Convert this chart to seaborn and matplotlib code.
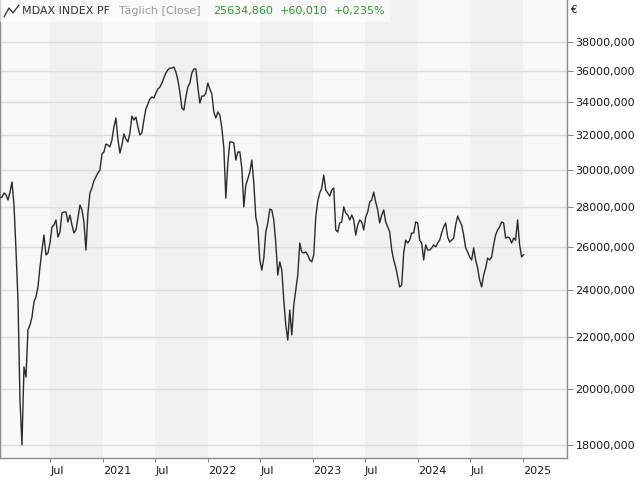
import matplotlib
matplotlib.use("Agg")
import matplotlib.pyplot as plt
import seaborn as sns
import pandas as pd
from matplotlib.ticker import FixedLocator, FuncFormatter, NullLocator
from matplotlib.patches import Rectangle
from matplotlib.lines import Line2D

# ---- data (~weekly samples) ----
close_values = [
    28470, 28520, 28730, 28630, 28360, 28780, 29320, 28100, 25850, 23560,
    19580, 18020, 20820, 20430, 22300, 22500, 22830, 23480, 23700, 24140,
    25050, 25850, 26580, 25620, 25710, 26190, 26980, 27080, 27330, 26480,
    26730, 27690, 27740, 27740, 27230, 27580, 27080, 26680, 26830, 27430,
    28100, 27840, 27230, 25850, 27690, 28730, 29000, 29380, 29600, 29820,
    29980, 30880, 31000, 31460, 31400, 31290, 31690, 32470, 33010, 31750,
    30940, 31400, 32050, 31750, 31580, 32110, 33130, 32890, 33070, 32470,
    31990, 32110, 32890, 33570, 33880, 34190, 34320, 34260, 34570, 34830,
    34960, 35220, 35550, 35880, 36080, 36210, 36210, 36280, 35950, 35420,
    34640, 33630, 33500, 34320, 34960, 35220, 35880, 36150, 36150, 34960,
    33940, 34380, 34380, 34570, 35220, 34830, 34510, 33380, 33010, 33380,
    33190, 32410, 31230, 28460, 30370, 31580, 31580, 31520, 30540, 31000,
    31000, 30090, 28000, 29160, 29490, 29870, 30540, 29270, 27480, 26980,
    25380, 24910, 25470, 26730, 27180, 27890, 27840, 27330, 26190, 24680,
    25290, 24910, 23560, 22500, 21880, 23130, 22090, 23350, 24000, 24680,
    26190, 25760, 25710, 25760, 25620, 25380, 25290, 25620, 27480, 28310,
    28730, 29000, 29700, 28890, 28730, 28570, 28890, 29000, 26830, 26730,
    27180, 27230, 28000, 27690, 27580, 27330, 27580, 27330, 26580, 27080,
    27330, 27230, 26830, 27480, 27740, 28250, 28360, 28780, 28250, 27840,
    27180, 27580, 27840, 27230, 26980, 26730, 25850, 25380, 25050, 24590,
    24140, 24230, 25710, 26330, 26190, 26330, 26680, 26680, 27230, 27180,
    26330, 26190, 25380, 26100, 25850, 25850, 25950, 26100, 26000, 26190,
    26330, 26680, 26980, 27180, 26480, 26240, 26330, 26430, 27080, 27530,
    27280, 27080, 26580, 25950, 25760, 25520, 25380, 25950, 25380, 25000,
    24460, 24140, 24680, 25000, 25470, 25380, 25520, 26100, 26580, 26830,
    26980, 27230, 27180, 26430, 26480, 26430, 26190, 26430, 26330, 27330,
    26100, 25520, 25635,
]
first_date = "2020-01-08"
last_date = "2025-01-03"

y_ticks = [18000, 20000, 22000, 24000, 26000, 28000, 30000, 32000, 34000, 36000, 38000]
x_tick_dates = ["2020-07-01", "2021-01-01", "2021-07-01", "2022-01-01", "2022-07-01",
                "2023-01-01", "2023-07-01", "2024-01-01", "2024-07-01", "2025-01-01"]
x_tick_labels = ["Jul", "2021", "Jul", "2022", "Jul", "2023", "Jul", "2024", "Jul", "2025"]

title_name = "MDAX INDEX PF"
title_mode = "Täglich [Close]"
title_last = "25634,860"
title_change = "+60,010"
title_pct = "+0,235%"

# ---- styling ----
sns.set_theme(style="white")
plt.rcParams["font.family"] = ["DejaVu Sans"]

dates = pd.date_range(first_date, last_date, periods=len(close_values))
df = pd.DataFrame({"date": dates, "close": close_values})

W, H = 640, 480
fig = plt.figure(figsize=(6.4, 4.8), dpi=100)
fig.patch.set_facecolor("white")
ax = fig.add_axes([0, 22 / H, 567 / W, 458 / H])
ax.set_facecolor("#f8f8f8")

# alternating half-year bands
for yr in range(2020, 2025):
    ax.axvspan(pd.Timestamp(f"{yr}-07-01"), pd.Timestamp(f"{yr + 1}-01-01"),
               color="#f0f0f0", lw=0, zorder=0)

sns.lineplot(data=df, x="date", y="close", ax=ax, color="#2b2b2b",
             linewidth=1.0, zorder=3)

ax.set_yscale("log")
ax.set_ylim(17588, 41075)
ax.set_xlim(pd.Timestamp("2020-01-08"), pd.Timestamp("2025-06-03"))

ax.yaxis.set_major_locator(FixedLocator(y_ticks))
ax.yaxis.set_minor_locator(NullLocator())
ax.yaxis.set_major_formatter(FuncFormatter(lambda v, p: f"{v:.0f},000"))
ax.yaxis.tick_right()
ax.set_xticks(pd.to_datetime(x_tick_dates))
ax.set_xticklabels(x_tick_labels, ha="left")
ax.xaxis.set_minor_locator(NullLocator())

ax.set_axisbelow(True)
ax.grid(axis="y", color="#dcdcdc", linewidth=1.0)
ax.grid(axis="x", visible=False)

ax.tick_params(axis="y", which="major", direction="out", length=4, width=0.8,
               color="#888888", pad=2, labelsize=8, labelcolor="#1a1a1a",
               right=True, left=False, labelright=True, labelleft=False)
ax.tick_params(axis="x", which="major", direction="out", length=3, width=0.8,
               color="#888888", pad=3, labelsize=8, labelcolor="#1a1a1a",
               bottom=True)

ax.set_xlabel("")
ax.set_ylabel("")
ax.spines["top"].set_visible(False)
for s in ("left", "right", "bottom"):
    ax.spines[s].set_color("#8a8a8a")
    ax.spines[s].set_linewidth(1.0)

# title strip
ax.add_patch(Rectangle((0, 1 - 22 / 458), 390 / 567, 22 / 458, transform=ax.transAxes,
                       facecolor="white", alpha=0.6, lw=0, zorder=4))
# small chart icon
fig.add_artist(Line2D([4 / W, 9 / W, 13 / W, 19 / W],
                      [1 - 17 / H, 1 - 8 / H, 1 - 13 / H, 1 - 5 / H],
                      color="#333333", lw=0.9))

ty = 1 - 11 / H
fig.text(22 / W, ty, title_name, fontsize=8, color="#333333", va="center")
fig.text(119 / W, ty, title_mode, fontsize=8, color="#9a9a9a", va="center")
fig.text(213 / W, ty, title_last, fontsize=8, color="#22a022", va="center")
fig.text(280 / W, ty, title_change, fontsize=8, color="#22a022", va="center")
fig.text(334 / W, ty, title_pct, fontsize=8, color="#22a022", va="center")
fig.text(571 / W, 1 - 10 / H, "€", fontsize=7.5, color="#1a1a1a", va="center")

fig.savefig("out.png", dpi=100, facecolor="white")
